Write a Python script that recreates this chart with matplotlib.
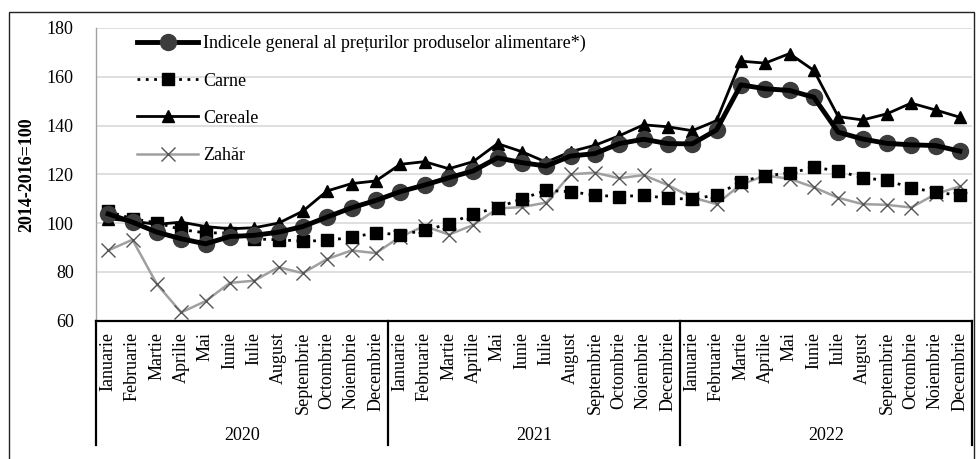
import matplotlib
matplotlib.use("Agg")
import matplotlib.pyplot as plt
import matplotlib.transforms as mtransforms
from matplotlib.patches import Rectangle

months = ["Ianuarie", "Februarie", "Martie", "Aprilie", "Mai", "Iunie", "Iulie",
          "August", "Septembrie", "Octombrie", "Noiembrie", "Decembrie"]
years = ["2020", "2021", "2022"]

general = [103.8, 100.4, 96.3, 93.6, 91.5, 94.5, 95.0, 96.3, 98.6, 102.5, 106.3, 109.3,
           112.9, 115.6, 118.6, 121.4, 126.8, 124.8, 123.4, 127.5, 128.5, 132.6, 134.4, 132.6,
           132.5, 138.2, 156.7, 155.1, 154.4, 151.6, 137.3, 134.5, 132.7, 132.1, 131.8, 129.5]
carne = [104.8, 101.8, 100.1, 97.4, 96.0, 96.0, 93.5, 93.2, 92.6, 92.9, 94.2, 96.0,
         95.3, 97.0, 99.7, 103.8, 106.3, 110.0, 113.4, 112.9, 111.5, 110.8, 111.5, 110.1,
         109.9, 111.5, 117.0, 119.5, 120.4, 122.9, 121.4, 118.6, 117.5, 114.5, 112.7, 111.4]
cereale = [101.8, 100.8, 99.5, 100.4, 98.6, 97.7, 98.1, 100.0, 104.9, 113.2, 116.2, 117.3,
           124.1, 125.2, 122.3, 125.2, 132.6, 129.3, 125.0, 129.3, 131.9, 135.8, 140.3, 139.5,
           137.9, 142.0, 166.4, 165.6, 169.5, 162.6, 143.7, 142.3, 144.8, 149.2, 146.4, 143.4]
zahar = [88.8, 93.2, 75.0, 63.4, 68.0, 75.5, 76.4, 81.9, 79.5, 85.3, 88.8, 87.7,
         94.4, 98.8, 95.3, 99.2, 106.0, 106.6, 108.4, 120.0, 120.7, 118.4, 119.7, 115.6,
         110.5, 107.8, 115.8, 119.5, 118.2, 114.7, 110.4, 107.8, 107.5, 106.4, 111.9, 115.1]

labels = ["Indicele general al prețurilor produselor alimentare*)", "Carne", "Cereale", "Zahăr"]
yticks = [60, 80, 100, 120, 140, 160, 180]

plt.rcParams['font.family'] = ['Liberation Serif', 'DejaVu Serif']
FS = 13

W, H = 977, 459
fig = plt.figure(figsize=(W / 100, H / 100), dpi=100)
ax = fig.add_axes([96 / W, 1 - 320.7 / H, 876 / W, 292.7 / H])

n = len(general)
x = list(range(n))

# outer frame
fig.patches.append(Rectangle((9 / W, -0.01), 965 / W, 1 - 12 / H + 0.01,
                             transform=fig.transFigure, fill=False,
                             edgecolor='#222222', linewidth=1.0))

ax.plot(x, zahar, color='#a0a0a0', linewidth=1.8, marker='x', markersize=10,
        markeredgecolor='#555555', markeredgewidth=1.0, label=labels[3], zorder=3)
ax.plot(x, carne, color='black', linewidth=2.0, linestyle=(0, (1, 2)), marker='s',
        markersize=9, markerfacecolor='black', markeredgecolor='black',
        label=labels[1], zorder=4)
ax.plot(x, cereale, color='black', linewidth=2.0, marker='^', markersize=9,
        markerfacecolor='black', markeredgecolor='black', label=labels[2], zorder=5)
ax.plot(x, general, linestyle='none', marker='o', markersize=11.5,
        markerfacecolor='#3c3c3c', markeredgecolor='#3c3c3c', zorder=6)
ax.plot(x, general, color='black', linewidth=3.5, zorder=7)

# legend proxies
h_gen, = ax.plot([], [], color='black', linewidth=3.5, marker='o', markersize=11.5,
                 markerfacecolor='#3c3c3c', markeredgecolor='#3c3c3c')
h_car, = ax.plot([], [], color='black', linewidth=2.0, linestyle=(0, (1, 2)), marker='s',
                 markersize=9, markerfacecolor='black', markeredgecolor='black')
h_cer, = ax.plot([], [], color='black', linewidth=2.0, marker='^', markersize=9,
                 markerfacecolor='black', markeredgecolor='black')
h_zah, = ax.plot([], [], color='#a0a0a0', linewidth=1.8, marker='x', markersize=10,
                 markeredgecolor='#555555', markeredgewidth=1.0)
leg = ax.legend([h_gen, h_car, h_cer, h_zah], labels, loc='upper left',
                bbox_to_anchor=(41 / 876, 1 - 7 / 292.7), frameon=False,
                fontsize=FS, handlelength=3.4, handletextpad=0.25,
                labelspacing=1.12, borderpad=0, borderaxespad=0, numpoints=1)
leg.set_zorder(10)

ax.set_xlim(-0.5, n - 0.5)
ax.set_ylim(60, 180)
ax.set_yticks(yticks)
ax.set_yticklabels([str(v) for v in yticks], fontsize=FS)
ax.tick_params(axis='y', length=0, pad=16)
ax.yaxis.grid(True, color='#d9d9d9', linewidth=1.2)
ax.set_axisbelow(True)

ax.set_xticks(x)
ax.set_xticklabels(months * len(years), rotation=90, fontsize=FS, va='top', ha='center')
ax.tick_params(axis='x', length=0, pad=8)

for s in ['top', 'right']:
    ax.spines[s].set_visible(False)
ax.spines['left'].set_color('#a0a0a0')
ax.spines['left'].set_linewidth(1.0)
ax.spines['bottom'].set_color('black')
ax.spines['bottom'].set_linewidth(1.6)

ax.set_ylabel("2014-2016=100", fontsize=FS, fontweight='bold')
ax.yaxis.set_label_coords(-61 / 876, 0.5)

trans = mtransforms.blended_transform_factory(ax.transData, ax.transAxes)
bottom_frac = -(445 - 320.7) / 292.7
for k in range(len(years) + 1):
    xs = k * 12 - 0.5
    ax.plot([xs, xs], [0, bottom_frac], transform=trans, color='black',
            linewidth=1.6, clip_on=False)
year_y = -(435 - 320.7) / 292.7
for k, yr in enumerate(years):
    ax.text(k * 12 + 5.5, year_y, yr, transform=trans, ha='center', va='center',
            fontsize=FS)

fig.savefig("out.png", dpi=100)
